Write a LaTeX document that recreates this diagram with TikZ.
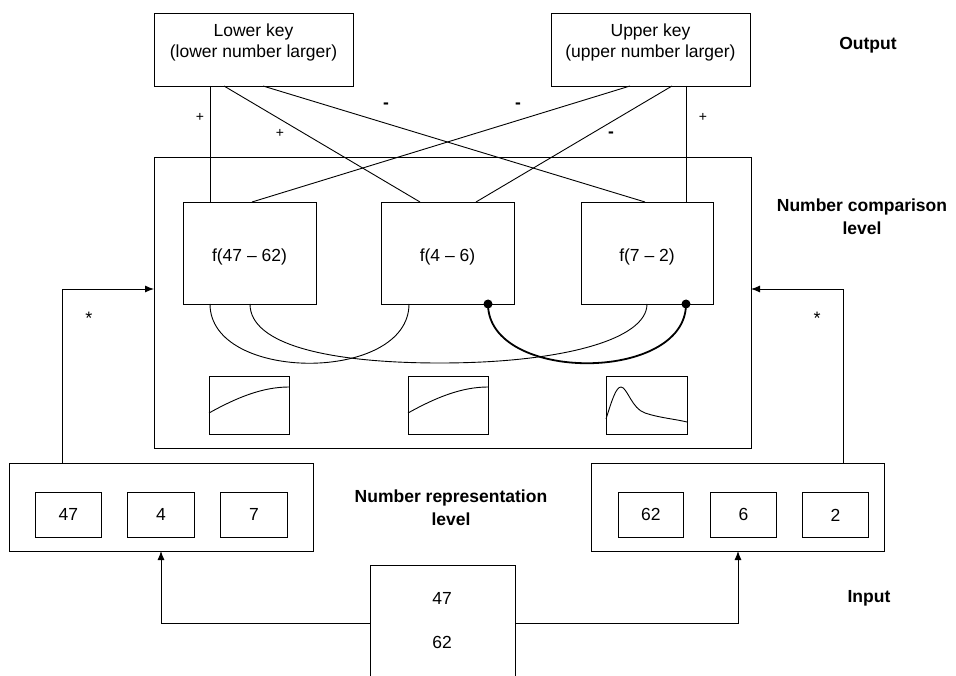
\documentclass[tikz,border=0pt]{standalone}
\usepackage{fontspec}
\setmainfont{Liberation Sans}
\usetikzlibrary{arrows.meta}
\begin{document}
\begin{tikzpicture}[x=1pt,y=-1pt, line width=0.9pt,
  box/.style={draw, rectangle, inner sep=0pt, anchor=north west, font=\fontsize{17.5}{21}\selectfont},
  txt/.style={font=\fontsize{17.5}{21}\selectfont, inner sep=0pt, align=center},
  lbl/.style={font=\bfseries\fontsize{17.5}{23}\selectfont, inner sep=0pt, align=center},
  plus/.style={font=\fontsize{14}{14}\selectfont, inner sep=0pt},
  star/.style={font=\fontsize{18}{18}\selectfont, inner sep=0pt},
  minus/.style={font=\bfseries\fontsize{17.5}{17.5}\selectfont, inner sep=0pt},
  arr/.style={-{Latex[length=9pt,width=7pt]}},
  dotc/.style={circle, fill, inner sep=0pt, minimum size=9pt},
  boldc/.style={line width=1.8pt}]
\useasboundingbox (0,0) rectangle (956,676);

% output keys
\node[box, minimum width=199pt, minimum height=73pt] (lk) at (154,13) {};
\node[txt] (lkt) at (253.5,42.5) {Lower key\\(lower number larger)};
\node[box, minimum width=199pt, minimum height=73pt] (uk) at (551,13) {};
\node[txt] (ukt) at (650.5,42.5) {Upper key\\(upper number larger)};

% comparison level
\node[box, minimum width=597pt, minimum height=291pt] (big) at (154,157) {};
\node[box, minimum width=133pt, minimum height=102pt] (f1) at (183,202) {};
\node[box, minimum width=133pt, minimum height=102pt] (f2) at (381,202) {};
\node[box, minimum width=132pt, minimum height=102pt] (f3) at (581,202) {};
\node[txt] (f1t) at (249.5,257) {f(47 -- 62)};
\node[txt] (f2t) at (447.5,257) {f(4 -- 6)};
\node[txt] (f3t) at (647,257) {f(7 -- 2)};

% graphs
\node[box, minimum width=80pt, minimum height=58pt] (g1) at (209,376) {};
\node[box, minimum width=80pt, minimum height=58pt] (g2) at (408,376) {};
\node[box, minimum width=81pt, minimum height=58pt] (g3) at (606,376) {};
\draw (209,413) .. controls (236,398) and (262,387) .. (289,387);
\draw (408,413) .. controls (435,398) and (461,387) .. (488,387);
\draw (606,419) .. controls (612,400) and (616,387) .. (621,387)
      .. controls (627,387) and (632,409) .. (645,413)
      .. controls (660,418) and (675,419) .. (687,422);

% representation level
\node[box, minimum width=304pt, minimum height=88pt] (lrep) at (9,463) {};
\node[box, minimum width=66pt, minimum height=45pt] (n47) at (35,492) {47};
\node[box, minimum width=67pt, minimum height=45pt] (n4) at (127,492) {4};
\node[box, minimum width=67pt, minimum height=45pt] (n7) at (220,492) {7};
\node[box, minimum width=293pt, minimum height=88pt] (rrep) at (591,463) {};
\node[box, minimum width=65pt, minimum height=45pt] (n62) at (618,492) {62};
\node[box, minimum width=66pt, minimum height=45pt] (n6) at (710,492) {6};
\node[box, minimum width=66pt, minimum height=45pt] (n2) at (802,492) {2};

% input
\node[inner sep=0pt, anchor=north west, minimum width=145pt, minimum height=111pt] (in) at (370,565) {};
\draw (in.south west) -- (in.north west) -- (in.north east) -- (in.south east);
\node[txt] (in47) at (442,598) {47};
\node[txt] (in62) at (442,642) {62};

% labels
\node[lbl] (lout) at (868,45) {Output};
\node[lbl] (lcmp) at (862,217) {Number comparison\\level};
\node[lbl] (lrepl) at (451,508) {Number representation\\level};
\node[lbl] (linp) at (869,598) {Input};

% coordinates
\coordinate (lk1) at (210,86); \coordinate (lk2) at (224,86); \coordinate (lk3) at (263,86);
\coordinate (uk1) at (630,86); \coordinate (uk2) at (672,86); \coordinate (uk3) at (686,86);
\coordinate (f1a) at (210,202); \coordinate (f1b) at (252,202);
\coordinate (f2a) at (420,202); \coordinate (f2b) at (476,202);
\coordinate (f3a) at (645,202); \coordinate (f3b) at (686,202);

\draw (lk1) -- (f1a);
\draw (lk2) -- (f2a);
\draw (lk3) -- (f3a);
\draw (uk1) -- (f1b);
\draw (uk2) -- (f2b);
\draw (uk3) -- (f3b);

\node[plus] (p1) at (200,117) {+};
\node[plus] (p2) at (280,133) {+};
\node[plus] (p3) at (703,117) {+};
\node[minus] (m1) at (386,106) {-};
\node[minus] (m2) at (518,106) {-};
\node[minus] (m3) at (611,135) {-};

% bottom curves
\coordinate (f1c) at (210,304); \coordinate (f1d) at (250,304);
\coordinate (f2c) at (409,304); \coordinate (f3c) at (647,304);
\node[dotc] (d2) at (488,304) {};
\node[dotc] (d3) at (686,304) {};
\draw (f1c) .. controls (210,383) and (409,383) .. (f2c);
\draw (f1d) .. controls (250,345) and (330,363) .. (440,363)
      .. controls (560,363) and (647,340) .. (f3c);
\draw[boldc] (d2.center) .. controls (488,383) and (686,383) .. (d3.center);

% side arrows
\coordinate (lrepTop) at (62,463); \coordinate (bigL) at (154,289);
\coordinate (rrepTop) at (843,463); \coordinate (bigR) at (751,289);
\draw[arr] (lrepTop) |- (bigL);
\draw[arr] (rrepTop) |- (bigR);
\node[star] (s1) at (89,318) {*};
\node[star] (s2) at (817,318) {*};

% input arrows
\coordinate (inL) at (370,623); \coordinate (inR) at (515,623);
\coordinate (lrepIn) at (161,551); \coordinate (rrepIn) at (738,551);
\draw[arr] (inL) -| (lrepIn);
\draw[arr] (inR) -| (rrepIn);
\end{tikzpicture}
\end{document}
